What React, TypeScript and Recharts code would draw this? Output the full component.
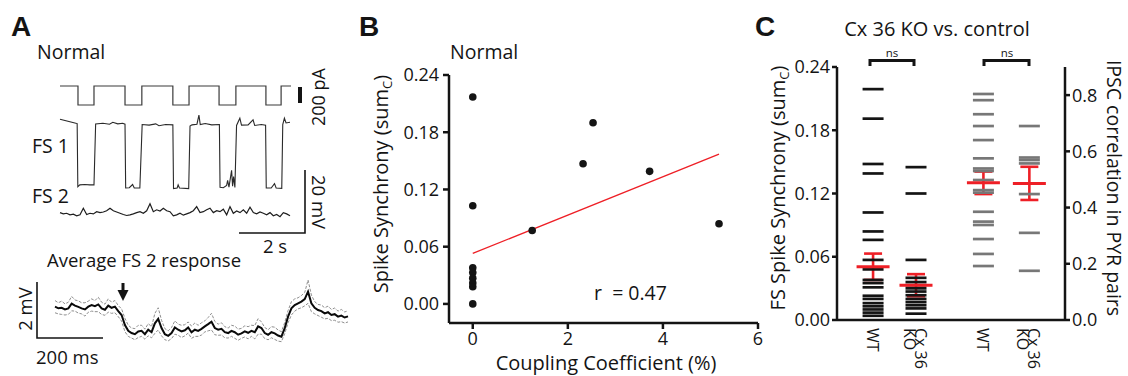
import React from 'react';
import {
  LineChart, Line, XAxis, YAxis, ScatterChart, Scatter, ReferenceLine, ErrorBar,
} from 'recharts';

const FONT = '"Open Sans", "Noto Sans", sans-serif';
const INK = '#141414';
const RED = '#ee1f26';
const GRAY = '#777777';

// ---- A: current steps (s, pA) ----
const stepTimes = [0, 0.545, 1.03, 1.97, 2.48, 3.42, 3.91, 4.82, 5.33, 6.24, 6.7, 7.0];
const stepCurrent = [0, -240, 0, -240, 0, -240, 0, -240, 0, -240, 0, 0];

// FS 1 membrane potential (s, mV)
const fs1Times = [0, 0.15, 0.3, 0.45, 0.52, 0.54, 0.6, 0.75, 0.9, 1.03, 1.08, 1.3, 1.5, 1.6, 1.75, 1.9, 1.97, 1.99, 2.1, 2.2, 2.25, 2.42, 2.49, 2.7, 2.9, 3.0, 3.2, 3.42, 3.44, 3.55, 3.58, 3.62, 3.9, 3.94, 4.0, 4.15, 4.21, 4.25, 4.4, 4.6, 4.83, 4.85, 4.95, 5.05, 5.08, 5.12, 5.2, 5.23, 5.26, 5.3, 5.35, 5.45, 5.5, 5.7, 5.85, 5.9, 6.1, 6.23, 6.25, 6.4, 6.5, 6.55, 6.72, 6.75, 6.8, 6.85, 6.97];
const fs1Volts = [-50.8, -51.2, -51.6, -52.0, -52.2, -72.2, -71.6, -71.5, -71.6, -71.6, -52.3, -52.1, -52.4, -51.8, -52.3, -52.1, -52.4, -72.6, -72.5, -71.5, -72.6, -72.6, -52.5, -52.7, -52.3, -52.9, -52.5, -52.6, -72.8, -72.6, -71.6, -72.6, -72.8, -53.0, -52.6, -52.4, -49.5, -52.5, -52.2, -52.6, -52.5, -72.4, -72.5, -71.8, -70.2, -72.3, -67.0, -72.0, -69.0, -72.4, -52.8, -50.5, -52.7, -52.6, -51.0, -52.8, -52.5, -52.7, -72.6, -72.6, -71.2, -72.6, -72.7, -52.5, -50.5, -52.0, -51.8];

// FS 2 membrane potential, evenly sampled (mV)
const fs2Volts = [-59.8, -60.2, -60.0, -60.5, -60.3, -60.8, -60.5, -58.4, -60.4, -60.0, -60.2, -59.5, -59.8, -59.6, -59.2, -58.4, -59.2, -59.6, -60.0, -60.4, -60.7, -60.5, -60.2, -59.8, -59.5, -60.0, -59.2, -57.0, -59.5, -58.9, -59.3, -58.4, -59.2, -59.5, -60.8, -60.5, -60.0, -60.6, -60.2, -59.8, -59.2, -57.9, -59.8, -59.5, -58.9, -58.4, -59.8, -59.2, -59.5, -58.7, -60.5, -57.9, -60.0, -59.3, -59.8, -58.9, -60.0, -58.1, -59.8, -60.2, -59.6, -60.0, -60.5, -59.8, -60.8, -60.4, -61.1, -59.8, -60.2, -60.8];

// Average FS 2 response: mean and SEM (mV), evenly sampled
const avgMean = [0.06, 0, 0.02, -0.04, 0, 0.17, 0.10, 0.05, 0, -0.04, 0.06, 0.12, 0.08, 0.14, 0, -0.05, 0.10, 0.02, 0.06, -0.10,
  -0.24, -0.60, -0.81, -0.89, -0.93, -0.83, -0.81, -0.93, -0.77, -0.86, -0.54, -0.38, -0.71, -0.93, -0.99, -0.89, -0.69, -0.77, -0.83, -0.79,
  -0.69, -0.86, -0.77, -0.81, -0.74, -0.65, -0.57, -0.48, -0.71, -0.77, -0.74, -0.86, -0.89, -0.81, -0.86, -0.95, -0.90, -0.83, -0.88, -0.81,
  -0.86, -0.65, -0.71, -0.89, -0.95, -0.86, -0.90, -0.98, -1.02, -0.71, -0.30, 0, 0.12, 0.18, 0.24, 0.33, 0.60, 0.18, 0.02, -0.06,
  -0.10, -0.18, -0.14, -0.24, -0.21, -0.30, -0.26, -0.33, -0.29];
const avgSem = [0.22, 0.2, 0.24, 0.2, 0.22, 0.26, 0.2, 0.22, 0.2, 0.24, 0.2, 0.22, 0.2, 0.26, 0.22, 0.2, 0.24, 0.2, 0.22, 0.2,
  0.22, 0.24, 0.2, 0.18, 0.2, 0.22, 0.2, 0.18, 0.22, 0.2, 0.36, 0.4, 0.28, 0.2, 0.18, 0.2, 0.24, 0.2, 0.22, 0.2,
  0.2, 0.22, 0.24, 0.2, 0.22, 0.2, 0.24, 0.3, 0.24, 0.2, 0.22, 0.2, 0.18, 0.2, 0.22, 0.2, 0.18, 0.2, 0.22, 0.2,
  0.24, 0.28, 0.22, 0.2, 0.18, 0.2, 0.22, 0.2, 0.18, 0.2, 0.22, 0.24, 0.22, 0.2, 0.22, 0.24, 0.42, 0.3, 0.22, 0.2,
  0.22, 0.2, 0.22, 0.2, 0.22, 0.2, 0.22, 0.2, 0.2];

// ---- B: coupling vs synchrony ----
const couplingPct = [0, 0, 0, 0, 0, 0, 0, 0, 1.25, 2.32, 2.53, 3.72, 5.18];
const synchrony = [0.217, 0.103, 0.038, 0.033, 0.027, 0.022, 0.018, 0, 0.077, 0.147, 0.19, 0.139, 0.084];
const fitX = [0, 5.18];
const fitY = [0.053, 0.157];
const bYTicks = [0, 0.06, 0.12, 0.18, 0.24];
const bXTicks = [0, 2, 4, 6];

// ---- C: Cx36 KO vs control ----
const groupLabels = ['WT', 'Cx 36|KO', 'WT', 'Cx 36|KO'];
const groupPos = [1, 2, 3.57, 4.64];
const wtSync = [0.219, 0.191, 0.148, 0.139, 0.102, 0.084, 0.076, 0.057, 0.048, 0.038, 0.035, 0.031, 0.023, 0.020, 0.016, 0.013, 0.010, 0.007, 0.004];
const koSync = [0.145, 0.120, 0.057, 0.040, 0.036, 0.033, 0.030, 0.027, 0.0235, 0.020, 0.017, 0.014, 0.011, 0.006];
const wtIpsc = [0.804, 0.782, 0.732, 0.69, 0.64, 0.575, 0.539, 0.53, 0.498, 0.462, 0.453, 0.385, 0.35, 0.338, 0.288, 0.235, 0.192];
const koIpsc = [0.69, 0.578, 0.569, 0.557, 0.448, 0.31, 0.175];
const syncMean = [0.0505, 0.033];
const syncSem = [0.0125, 0.0105];
const ipscMean = [0.488, 0.486];
const ipscSem = [0.04, 0.059];
const cLeftTicks = [0, 0.06, 0.12, 0.18, 0.24];
const cRightTicks = [0, 0.2, 0.4, 0.6, 0.8];

const box = (left: number, top: number, width: number, height: number): React.CSSProperties => ({
  position: 'absolute', left, top, width, height,
});
const zero = { top: 0, right: 0, bottom: 0, left: 0 };

const dash = (color: string, w: number, sw: number) => (p: any) => (
  <line x1={p.cx - w / 2} x2={p.cx + w / 2} y1={p.cy} y2={p.cy} stroke={color} strokeWidth={sw} />
);
const dot = (p: any) => <circle cx={p.cx} cy={p.cy} r={3.8} fill={INK} />;

const GroupTick = (props: any) => {
  const { x, y, payload } = props;
  const lines = groupLabels[groupPos.indexOf(payload.value)].split('|');
  const base = lines.length === 1 ? [6] : [1, 12];
  return (
    <g transform={`translate(${x},${y})`}>
      {lines.map((s, k) => (
        <text key={k} transform="rotate(90)" x={0} y={base[k]} fontSize={16} fill={INK} textAnchor="start">{s}</text>
      ))}
    </g>
  );
};

const axisStyle = { stroke: INK, strokeWidth: 2.5 };
const tickStyle = { fill: INK, fontSize: 18 };

export default function App() {
  const stepData = stepTimes.map((t, k) => ({ t, v: stepCurrent[k] }));
  const fs1Data = fs1Times.map((t, k) => ({ t, v: fs1Volts[k] }));
  const fs2Data = fs2Volts.map((v, i) => ({ i, v }));
  const avgData = avgMean.map((m, i) => ({ i, m, hi: m + avgSem[i], lo: m - avgSem[i] }));
  const bPts = couplingPct.map((x, k) => ({ x, y: synchrony[k] }));
  const pts = (vals: number[], g: number) => vals.map((y) => ({ x: groupPos[g], y }));
  const syncMeans = syncMean.map((y, k) => ({ x: groupPos[k], y, e: syncSem[k] }));
  const ipscMeans = ipscMean.map((y, k) => ({ x: groupPos[k + 2], y, e: ipscSem[k] }));

  return (
    <div style={{ position: 'absolute', left: 0, top: 0, width: 1128, height: 376, background: '#fff', fontFamily: FONT, color: INK }}>
      <style>{'.recharts-surface{overflow:visible}'}</style>

      {/* A: current steps */}
      <div style={box(60, 86, 231, 19)}>
        <LineChart width={231} height={19} data={stepData} margin={zero}>
          <XAxis type="number" dataKey="t" domain={[0, 7]} hide />
          <YAxis domain={[-240, 0]} hide />
          <Line type="stepAfter" dataKey="v" stroke="#3a3a3a" strokeWidth={1.2} dot={false} isAnimationActive={false} />
        </LineChart>
      </div>
      {/* A: FS 1 */}
      <div style={box(60, 110, 231, 90)}>
        <LineChart width={231} height={90} data={fs1Data} margin={zero}>
          <XAxis type="number" dataKey="t" domain={[0, 7]} hide />
          <YAxis domain={[-76.4, -47.9]} hide />
          <Line type="linear" dataKey="v" stroke="#2a2a2a" strokeWidth={1.1} dot={false} isAnimationActive={false} />
        </LineChart>
      </div>
      {/* A: FS 2 */}
      <div style={box(60, 200, 230, 30)}>
        <LineChart width={230} height={30} data={fs2Data} margin={zero}>
          <XAxis type="number" dataKey="i" domain={[0, fs2Volts.length - 1]} hide />
          <YAxis domain={[-65.3, -55.8]} hide />
          <Line type="linear" dataKey="v" stroke="#1e1e1e" strokeWidth={1.2} dot={false} isAnimationActive={false} />
        </LineChart>
      </div>
      {/* A: average response */}
      <div style={box(55, 280, 293, 65)}>
        <LineChart width={293} height={65} data={avgData} margin={zero}>
          <XAxis type="number" dataKey="i" domain={[0, avgMean.length - 1]} hide />
          <YAxis domain={[-1.32, 1.0]} hide />
          <Line type="linear" dataKey="hi" stroke="#8f8f8f" strokeWidth={1} strokeDasharray="3 1.5" dot={false} isAnimationActive={false} />
          <Line type="linear" dataKey="lo" stroke="#8f8f8f" strokeWidth={1} strokeDasharray="3 1.5" dot={false} isAnimationActive={false} />
          <Line type="linear" dataKey="m" stroke="#0a0a0a" strokeWidth={2} dot={false} isAnimationActive={false} />
        </LineChart>
      </div>

      {/* B */}
      <div style={box(360, 0, 410, 376)}>
        <ScatterChart width={410} height={376} margin={{ top: 75, right: 12, bottom: 23, left: 30 }}>
          <XAxis type="number" dataKey="x" domain={[-0.5, 6]} ticks={bXTicks} height={30}
            axisLine={axisStyle} tickLine={axisStyle} tickSize={6} tickMargin={3} tick={tickStyle} />
          <YAxis type="number" dataKey="y" domain={[-0.02, 0.24]} ticks={bYTicks} width={59}
            tickFormatter={(v: number) => v.toFixed(2)}
            axisLine={axisStyle} tickLine={axisStyle} tickSize={6} tickMargin={4} tick={tickStyle} />
          <ReferenceLine segment={[{ x: fitX[0], y: fitY[0] }, { x: fitX[1], y: fitY[1] }]} stroke={RED} strokeWidth={1.3} />
          <Scatter data={bPts} shape={dot} isAnimationActive={false} />
        </ScatterChart>
      </div>

      {/* C */}
      <div style={box(760, 0, 368, 376)}>
        <ScatterChart width={368} height={376} margin={{ top: 67, right: 23, bottom: 6, left: 37 }}>
          <XAxis type="number" dataKey="x" domain={[0.16, 5.47]} ticks={groupPos} interval={0} height={50}
            axisLine={axisStyle} tickLine={false} tick={<GroupTick />} />
          <YAxis yAxisId="l" type="number" dataKey="y" domain={[0, 0.24]} ticks={cLeftTicks} width={40}
            tickFormatter={(v: number) => v.toFixed(2)}
            axisLine={axisStyle} tickLine={axisStyle} tickSize={5} tickMargin={2} tick={tickStyle} />
          <YAxis yAxisId="r" orientation="right" type="number" dataKey="y" domain={[0, 0.9]} ticks={cRightTicks} width={40}
            tickFormatter={(v: number) => v.toFixed(1)}
            axisLine={axisStyle} tickLine={axisStyle} tickSize={5} tickMargin={2} tick={tickStyle} />
          <Scatter yAxisId="l" data={pts(wtSync, 0)} shape={dash(INK, 21, 2.7)} isAnimationActive={false} />
          <Scatter yAxisId="l" data={pts(koSync, 1)} shape={dash(INK, 21, 2.7)} isAnimationActive={false} />
          <Scatter yAxisId="r" data={pts(wtIpsc, 2)} shape={dash(GRAY, 21, 2.7)} isAnimationActive={false} />
          <Scatter yAxisId="r" data={pts(koIpsc, 3)} shape={dash(GRAY, 21, 2.7)} isAnimationActive={false} />
          <Scatter yAxisId="l" data={syncMeans} shape={dash(RED, 33, 3)} isAnimationActive={false}>
            <ErrorBar dataKey="e" direction="y" width={9} stroke={RED} strokeWidth={2.6} />
          </Scatter>
          <Scatter yAxisId="r" data={ipscMeans} shape={dash(RED, 33, 3)} isAnimationActive={false}>
            <ErrorBar dataKey="e" direction="y" width={9} stroke={RED} strokeWidth={2.6} />
          </Scatter>
        </ScatterChart>
      </div>

      {/* labels and scale bars */}
      <svg width={1128} height={376} style={{ position: 'absolute', left: 0, top: 0, pointerEvents: 'none' }} fontFamily={FONT} fill={INK}>
        <g fontFamily='"Liberation Sans", Arial, sans-serif' fontWeight="bold" fontSize={28}>
          <text x={11} y={36}>A</text>
          <text x={359} y={36}>B</text>
          <text x={755} y={36}>C</text>
        </g>
        <g fontSize={19.5}>
          <text x={37} y={59}>Normal</text>
          <text x={450} y={59}>Normal</text>
          <text x={32} y={153}>FS 1</text>
          <text x={32} y={203}>FS 2</text>
        </g>
        <rect x={298} y={87} width={4} height={16} fill={INK} />
        <text transform="translate(325,97) rotate(-90)" textAnchor="middle" fontSize={18}>200 pA</text>
        <path d="M239,233 H305 V170" stroke={INK} strokeWidth={1.6} fill="none" />
        <text transform="translate(312,202) rotate(90)" textAnchor="middle" fontSize={18.5}>20 mV</text>
        <text x={275} y={253} textAnchor="middle" fontSize={18.5}>2 s</text>
        <text x={47} y={267} fontSize={18.5}>Average FS 2 response</text>
        <line x1={123} y1={283} x2={123} y2={292} stroke={INK} strokeWidth={3} />
        <polygon points="117.5,290 128.5,290 123,301" fill={INK} />
        <path d="M37,282 V338 H103" stroke={INK} strokeWidth={1.6} fill="none" />
        <text transform="translate(32,309) rotate(-90)" textAnchor="middle" fontSize={18.5}>2 mV</text>
        <text x={36} y={364} fontSize={18.5}>200 ms</text>

        <text transform="translate(388,184) rotate(-90)" textAnchor="middle" fontSize={20}>
          Spike Synchrony (sum<tspan fontSize={13} dy={4}>C</tspan><tspan dy={-4}>)</tspan>
        </text>
        <text x={606} y={370} textAnchor="middle" fontSize={20}>Coupling Coefficient (%)</text>
        <text x={594} y={300} fontSize={19.5}>r{'\u00a0'} = 0.47</text>

        <text x={937} y={36} textAnchor="middle" fontSize={20}>Cx 36 KO vs. control</text>
        <g fontSize={11.5} textAnchor="middle">
          <text x={892} y={57}>ns</text>
          <text x={1007} y={57}>ns</text>
        </g>
        <path d="M870,66 V60.5 H914 V66 M984,66 V60.5 H1029 V66" stroke={INK} strokeWidth={3} fill="none" />
        <text transform="translate(785,188) rotate(-90)" textAnchor="middle" fontSize={20}>
          FS Spike Synchrony (sum<tspan fontSize={13} dy={4}>C</tspan><tspan dy={-4}>)</tspan>
        </text>
        <text transform="translate(1107,188) rotate(90)" textAnchor="middle" fontSize={19.5}>IPSC correlation in PYR pairs</text>
      </svg>
    </div>
  );
}
